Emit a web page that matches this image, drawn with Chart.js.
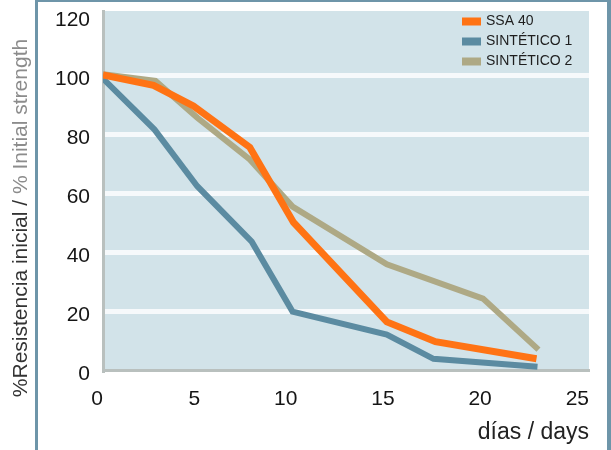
<!DOCTYPE html>
<html>
<head>
<meta charset="utf-8">
<script src="https://cdn.jsdelivr.net/npm/chart.js@4.4.0/dist/chart.umd.min.js"></script>
<style>
  html, body { margin: 0; padding: 0; background: #fff; }
  #wrap { width: 611px; height: 450px; }
</style>
</head>
<body>
<div id="wrap"><canvas id="resistenciaChart" width="611" height="450"></canvas></div>
<script>
// datos
var seriesLabels = ['SSA 40', 'SINTÉTICO 1', 'SINTÉTICO 2'];
var ssaDias = [0, 2.6, 4.65, 7.55, 9.8, 14.6, 17.1, 22.3];
var ssaValores = [100, 96.5, 89.5, 75.5, 50, 16.3, 9.6, 3.8];
var sint1Dias = [0, 2.65, 4.85, 7.65, 9.75, 14.6, 17.0, 22.35];
var sint1Valores = [98.8, 81.5, 62.3, 43.5, 19.8, 12, 3.8, 1.1];
var sint2Dias = [0, 2.7, 4.85, 7.55, 9.75, 14.6, 19.55, 22.4];
var sint2Valores = [100.3, 98, 85.5, 71.4, 55.4, 35.8, 24.2, 6.9];
var yTicks = [0, 20, 40, 60, 80, 100, 120];
var xTicks = [0, 5, 10, 15, 20, 25];
var colores = ['#ff7314', '#5b8ba1', '#aea985'];

var fuente = "'Liberation Sans', Arial, sans-serif";

function puntos(xs, ys) {
    return xs.map(function(x, i) { return { x: x, y: ys[i] }; });
}

function sinPadding(scale) {
    scale.paddingTop = 0;
    scale.paddingBottom = 0;
    scale.paddingLeft = 0;
    scale.paddingRight = 0;
}

var fondoPlugin = {
    id: 'fondo',
    beforeDraw: function(chart) {
        var ctx = chart.ctx, a = chart.chartArea;
        ctx.save();
        ctx.fillStyle = '#ffffff';
        ctx.fillRect(0, 0, chart.width, chart.height);
        ctx.fillStyle = 'rgb(210,227,233)';
        ctx.fillRect(a.left, a.top, a.right - a.left, a.bottom - a.top);
        // marco exterior
        ctx.fillStyle = '#6e95a9';
        ctx.fillRect(35, 0, 3, chart.height);
        ctx.fillRect(35, 0, chart.width - 35, 2);
        ctx.fillRect(607, 0, 4, chart.height);
        ctx.restore();
    },
    afterDraw: function(chart) {
        var ctx = chart.ctx;
        ctx.save();
        // titulo eje y en dos colores
        var t1 = '%Resistencia inicial / ';
        var t2 = '% Initial strength';
        ctx.font = '21px ' + fuente;
        var w1 = ctx.measureText(t1).width;
        var w2 = ctx.measureText(t2).width;
        ctx.translate(21, 218);
        ctx.rotate(-Math.PI / 2);
        ctx.textBaseline = 'middle';
        ctx.textAlign = 'left';
        ctx.fillStyle = '#333333';
        ctx.fillText(t1, -(w1 + w2) / 2, 0);
        ctx.fillStyle = '#8c8c8c';
        ctx.fillText(t2, -(w1 + w2) / 2 + w1, 0);
        ctx.restore();

        // leyenda dentro del area
        ctx.save();
        ctx.font = '14px ' + fuente;
        ctx.textBaseline = 'middle';
        ctx.textAlign = 'left';
        chart.data.datasets.forEach(function(ds, i) {
            var yy = 21.5 + i * 20;
            ctx.fillStyle = ds.borderColor;
            ctx.fillRect(462, yy - 4, 19, 8);
            ctx.fillStyle = '#1e1e1e';
            ctx.fillText(ds.label, 486, yy);
        });
        ctx.restore();
    }
};

var ctx = document.getElementById('resistenciaChart').getContext('2d');
var resistenciaChart = new Chart(ctx, {
    type: 'line',
    data: {
        datasets: [{
            label: seriesLabels[0],
            data: puntos(ssaDias, ssaValores),
            borderColor: colores[0],
            borderWidth: 7
        }, {
            label: seriesLabels[1],
            data: puntos(sint1Dias, sint1Valores),
            borderColor: colores[1],
            borderWidth: 6
        }, {
            label: seriesLabels[2],
            data: puntos(sint2Dias, sint2Valores),
            borderColor: colores[2],
            borderWidth: 6
        }]
    },
    options: {
        responsive: false,
        animation: false,
        devicePixelRatio: 1,
        layout: { padding: { top: 11, right: 22, left: 0, bottom: 0 } },
        elements: {
            point: { radius: 0, hoverRadius: 0 },
            line: { tension: 0, fill: false, borderJoinStyle: 'miter', borderCapStyle: 'butt' }
        },
        plugins: {
            legend: { display: false },
            tooltip: { enabled: false }
        },
        scales: {
            x: {
                type: 'linear',
                min: 0,
                max: 25,
                afterBuildTicks: function(scale) {
                    scale.ticks = xTicks.map(function(v) { return { value: v }; });
                },
                afterFit: function(scale) { scale.height = 80; sinPadding(scale); },
                grid: { display: false, drawTicks: false },
                border: { display: true, color: '#b9c0be', width: 3 },
                ticks: {
                    align: 'end',
                    padding: 17,
                    color: '#151515',
                    font: { family: fuente, size: 21 }
                },
                title: {
                    display: true,
                    text: 'días / days',
                    align: 'end',
                    color: '#222222',
                    font: { family: fuente, size: 23 },
                    padding: { top: 0, bottom: 4 }
                }
            },
            y: {
                min: 0,
                max: 121.7,
                afterBuildTicks: function(scale) {
                    scale.ticks = yTicks.map(function(v) { return { value: v }; });
                },
                afterFit: function(scale) { scale.width = 103; sinPadding(scale); },
                grid: {
                    drawTicks: false,
                    lineWidth: 5,
                    color: function(c) {
                        var v = c.tick ? c.tick.value : 0;
                        return (v > 0 && v < 120) ? 'rgba(249,251,253,0.9)' : 'rgba(0,0,0,0)';
                    }
                },
                border: { display: true, color: '#b9c0be', width: 3 },
                ticks: {
                    padding: 13,
                    labelOffset: 4,
                    color: '#151515',
                    font: { family: fuente, size: 21 }
                }
            }
        }
    },
    plugins: [fondoPlugin]
});
</script>
</body>
</html>
